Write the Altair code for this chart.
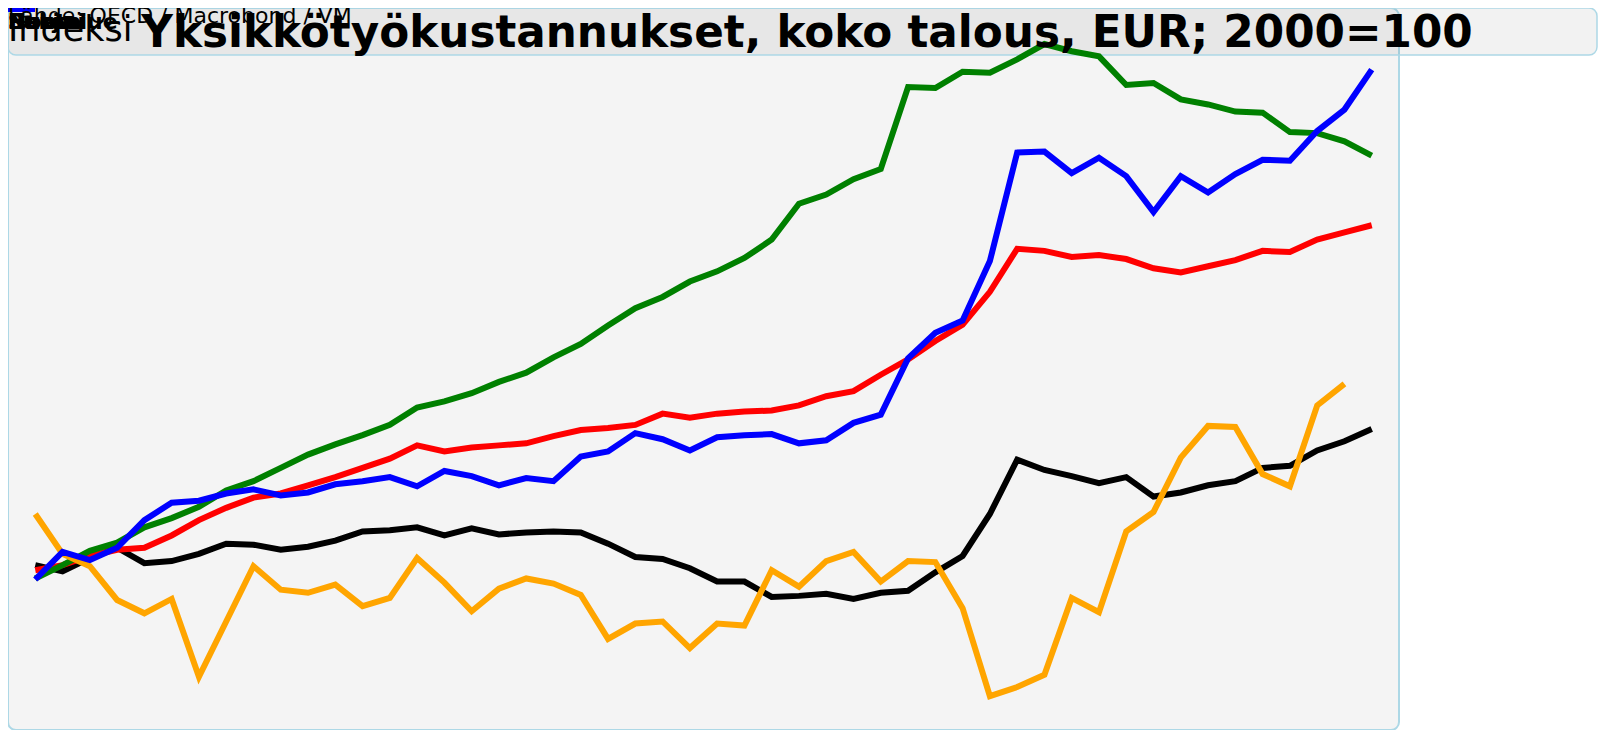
import altair as alt
import pandas as pd

# x categories: quarters 2000Q1 ... 2012Q2
quarters = [f"{y}Q{q}" for y in range(2000, 2013) for q in range(1, 5)][:50]

series_names = ["Saksa", "Euroalue", "Norja", "Ruotsi", "Suomi"]
series_colors = ["#000000", "#ff0000", "#008000", "#ffa500", "#0000ff"]

saksa = [99.5, 98.9, 100.2, 101.2, 99.7, 99.9, 100.6, 101.6, 101.5, 101.0,
         101.3, 101.9, 102.8, 102.9, 103.2, 102.4, 103.1, 102.5, 102.7, 102.8,
         102.7, 101.6, 100.3, 100.1, 99.2, 97.9, 97.9, 96.4, 96.5, 96.7,
         96.2, 96.8, 97.0, 98.8, 100.4, 104.5, 109.8, 108.8, 108.2, 107.5,
         108.1, 106.2, 106.6, 107.3, 107.7, 109.0, 109.2, 110.7, 111.6, 112.8]
euroalue = [99.0, 99.5, 100.4, 101.0, 101.2, 102.4, 103.9, 105.1, 106.1, 106.5,
            107.3, 108.1, 109.0, 109.9, 111.2, 110.6, 111.0, 111.2, 111.4, 112.1,
            112.7, 112.9, 113.2, 114.3, 113.9, 114.3, 114.5, 114.6, 115.1, 116.0,
            116.5, 118.1, 119.6, 121.4, 123.0, 126.2, 130.4, 130.2, 129.6, 129.8,
            129.4, 128.5, 128.1, 128.7, 129.3, 130.2, 130.1, 131.3, 132.0, 132.7]
norja = [98.2, 99.5, 100.9, 101.7, 103.2, 104.1, 105.2, 106.8, 107.7, 109.0,
         110.3, 111.3, 112.2, 113.2, 114.9, 115.5, 116.3, 117.4, 118.3, 119.8,
         121.1, 122.9, 124.6, 125.7, 127.2, 128.2, 129.5, 131.3, 134.8, 135.7,
         137.2, 138.2, 146.2, 146.1, 147.7, 147.6, 148.9, 150.4, 149.7, 149.2,
         146.4, 146.6, 145.0, 144.5, 143.8, 143.7, 141.8, 141.7, 140.9, 139.5]
ruotsi = [104.5, 100.6, 99.4, 96.1, 94.8, 96.2, 88.6, 94.0, 99.4, 97.1,
          96.8, 97.6, 95.5, 96.3, 100.2, 97.8, 95.0, 97.2, 98.2, 97.7,
          96.6, 92.3, 93.8, 94.0, 91.4, 93.8, 93.6, 99.0, 97.4, 99.9,
          100.8, 97.9, 99.9, 99.8, 95.3, 86.7, 87.6, 88.8, 96.3, 94.9,
          102.8, 104.7, 110.0, 113.1, 113.0, 108.4, 107.2, 115.1, 117.2]
suomi = [98.1, 100.8, 100.0, 101.2, 103.9, 105.6, 105.8, 106.5, 106.9, 106.3,
         106.6, 107.4, 107.7, 108.1, 107.2, 108.7, 108.2, 107.3, 108.0, 107.7,
         110.1, 110.6, 112.4, 111.8, 110.7, 112.0, 112.2, 112.3, 111.4, 111.7,
         113.4, 114.2, 119.7, 122.2, 123.4, 129.2, 139.8, 139.9, 137.8, 139.3,
         137.5, 134.0, 137.5, 135.9, 137.7, 139.1, 139.0, 141.9, 144.0, 147.9]

title_text = "Yksikkötyökustannukset, koko talous, EUR; 2000=100"
y_title_text = "Indeksi"
source_text = "Lähde: OECD / Macrobond / VM"

series_values = [saksa, euroalue, norja, ruotsi, suomi]
rows = []
for k, (name, vals) in enumerate(zip(series_names, series_values)):
    for q, v in zip(quarters, vals):
        rows.append({"sarja": name, "neljannes": q, "indeksi": v, "jarjestys": k})
df = pd.DataFrame(rows)
legend_df = pd.DataFrame({"sarja": series_names})

W, H = 1391, 722
color_scale = alt.Scale(domain=series_names, range=series_colors)

header = alt.Chart(pd.DataFrame({"a": [0]})).mark_rect(
    fill="#000000", fillOpacity=0.05, stroke="#add8e6", strokeWidth=1.5, cornerRadius=8
).encode(x=alt.value(0), x2=alt.value(1589), y=alt.value(0), y2=alt.value(47))

lines = alt.Chart(df).mark_line(strokeWidth=6).encode(
    x=alt.X("neljannes:O", sort=quarters, axis=None, scale=alt.Scale(padding=1.04)),
    y=alt.Y("indeksi:Q", axis=None,
            scale=alt.Scale(domain=[83.40, 153.92], nice=False, zero=False)),
    color=alt.Color("sarja:N", scale=color_scale, legend=None, sort=series_names),
    order=alt.Order("jarjestys:Q"),
)

legend_symbols = alt.Chart(legend_df).mark_rect().encode(
    color=alt.Color("sarja:N", scale=color_scale, legend=None),
    x=alt.value(-1), x2=alt.value(27), y=alt.value(0), y2=alt.value(4),
)

legend_labels = alt.Chart(legend_df).mark_text(
    align="left", baseline="alphabetic", fontSize=22, font="DejaVu Sans",
    fontWeight="bold", color="#000000"
).encode(text="sarja:N", x=alt.value(0), y=alt.value(21))

ytitle = alt.Chart(pd.DataFrame({"t": [y_title_text]})).mark_text(
    align="left", baseline="alphabetic", fontSize=35, font="DejaVu Sans", color="#000000"
).encode(text="t:N", x=alt.value(0), y=alt.value(33))

source = alt.Chart(pd.DataFrame({"t": [source_text]})).mark_text(
    align="left", baseline="alphabetic", fontSize=22, font="DejaVu Sans", color="#000000"
).encode(text="t:N", x=alt.value(0), y=alt.value(15))

title = alt.Chart(pd.DataFrame({"t": [title_text]})).mark_text(
    align="center", baseline="alphabetic", fontSize=43.7, font="DejaVu Sans",
    fontWeight="bold", color="#000000"
).encode(text="t:N", x=alt.value(799), y=alt.value(39))

chart = alt.layer(
    header, lines, legend_symbols, ytitle, source, legend_labels, title
).properties(
    width=W, height=H,
    autosize=alt.AutoSizeParams(type="none"),
    padding={"left": 0, "top": 0, "right": 199, "bottom": 0},
).configure_view(
    fill="#f4f4f4", stroke="#add8e6", strokeWidth=2, cornerRadius=8
)

chart.save("out.html", embed_options={"renderer": "svg", "actions": False})
